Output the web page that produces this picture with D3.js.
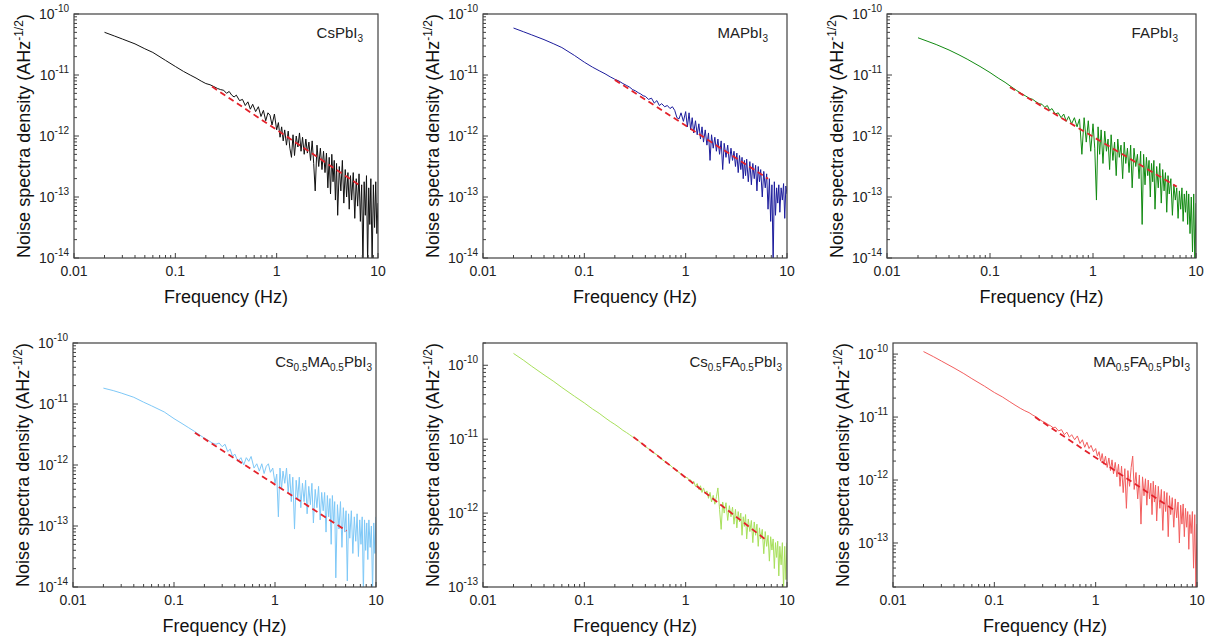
<!DOCTYPE html>
<html>
<head>
<meta charset="utf-8">
<script src="https://cdn.jsdelivr.net/npm/d3@7"></script>
<style>
  body { margin: 0; background: #fff; }
  svg { display: block; font-family: "Liberation Sans", Arial, sans-serif; }
  .frame { fill: none; stroke: #404040; stroke-width: 1.2; }
  .tick { stroke: #404040; stroke-width: 1; }
  .tick-label { font-size: 14px; fill: #222; }
  .axis-title { font-size: 18px; fill: #111; }
  .sample-label { font-size: 15px; fill: #222; }
  .psd { fill: none; stroke-width: 1; stroke-linejoin: round; }
  .fit { fill: none; stroke: #e3222b; stroke-width: 1.8; stroke-dasharray: 6 4; }
</style>
</head>
<body>
<svg id="chart" width="1209" height="641"></svg>
<script>
const svg = d3.select("#chart");

// frequency grid shared by all spectra (Hz)
const freq = [
  0.02, 0.025, 0.03, 0.04, 0.05, 0.06, 0.08, 0.1, 0.12, 0.14, 0.16, 0.18, 0.2,
  0.22, 0.24, 0.26, 0.28, 0.30, 0.32, 0.34, 0.36, 0.38, 0.40, 0.43, 0.46, 0.49, 0.52, 0.55, 0.58, 0.62, 0.66, 0.70, 0.74, 0.78, 0.82, 0.86, 0.90, 0.95, 1.00,
  1.04, 1.08, 1.12, 1.16, 1.2, 1.25, 1.3, 1.35, 1.4, 1.45, 1.5, 1.56, 1.62, 1.68, 1.74, 1.8, 1.87, 1.94, 2.01, 2.08, 2.16, 2.24, 2.32, 2.4, 2.5, 2.6, 2.7, 2.8, 2.9, 3.0,
  3.1, 3.2, 3.3, 3.4, 3.5, 3.6, 3.7, 3.8, 3.9, 4.0, 4.15, 4.3, 4.45, 4.6, 4.75, 4.9, 5.05, 5.2, 5.35, 5.5, 5.7, 5.9, 6.1, 6.3, 6.5, 6.7, 6.9, 7.1, 7.3, 7.5, 7.7, 7.9, 8.1, 8.3, 8.5, 8.75, 9.0, 9.25, 9.5, 9.75, 10.0
];

// log10 of noise spectral density (A Hz^-1/2)
const logCsPbI3 = [
  -10.30, -10.36, -10.41, -10.49, -10.57, -10.63, -10.76, -10.86, -10.94, -11.00, -11.05, -11.10, -11.14,
  -11.16, -11.19, -11.22, -11.24, -11.25, -11.30, -11.27, -11.33, -11.36, -11.33, -11.42, -11.40, -11.50, -11.44, -11.56, -11.48, -11.60, -11.52, -11.68, -11.58, -11.75, -11.62, -11.66, -11.82, -11.64, -11.90,
  -11.78, -12.02, -11.85, -12.08, -11.90, -12.15, -11.92, -12.20, -12.35, -11.98, -12.32, -12.00, -12.18, -11.95, -12.25, -12.02, -12.30, -12.05, -12.28, -12.10, -12.40, -12.08, -12.45, -12.90, -12.15, -12.50, -12.20, -12.55, -12.25, -12.60,
  -12.28, -12.85, -12.35, -12.95, -12.30, -12.75, -12.40, -13.05, -12.45, -13.30, -12.50, -12.90, -12.40, -13.10, -12.55, -13.00, -12.60, -13.20, -12.65, -13.05, -12.60, -13.35, -12.70, -13.15, -12.62, -13.40, -12.80, -14.10, -12.75, -13.30, -12.65, -14.10, -12.85, -13.45, -12.70, -14.10, -12.80, -13.50, -12.75, -13.60, -13.10
];
const logMAPbI3 = [
  -10.23, -10.29, -10.34, -10.42, -10.49, -10.55, -10.68, -10.79, -10.87, -10.93, -10.98, -11.03, -11.07,
  -11.10, -11.14, -11.17, -11.20, -11.24, -11.26, -11.29, -11.31, -11.34, -11.35, -11.40, -11.38, -11.46, -11.42, -11.50, -11.47, -11.52, -11.50, -11.55, -11.52, -11.58, -11.70, -11.72, -11.62, -11.76, -11.60,
  -11.85, -11.62, -11.90, -11.70, -11.95, -11.75, -11.98, -11.80, -12.05, -11.85, -12.10, -11.90, -12.15, -11.95, -12.40, -11.98, -12.20, -12.02, -12.25, -12.05, -12.30, -12.08, -12.55, -12.12, -12.35, -12.15, -12.45, -12.20, -12.40, -12.25,
  -12.50, -12.28, -12.60, -12.32, -12.55, -12.35, -12.70, -12.40, -12.65, -12.38, -12.75, -12.42, -12.80, -12.45, -12.70, -12.48, -12.90, -12.50, -12.75, -12.55, -13.00, -12.58, -12.85, -12.62, -13.20, -12.70, -13.40, -12.80, -14.10, -12.75, -13.30, -12.85, -13.10, -12.80, -13.25, -12.85, -13.05, -12.78, -13.35, -12.82, -12.95
];
const logFAPbI3 = [
  -10.39, -10.45, -10.50, -10.59, -10.67, -10.74, -10.86, -10.96, -11.05, -11.12, -11.19, -11.25, -11.30,
  -11.34, -11.38, -11.40, -11.44, -11.47, -11.48, -11.53, -11.50, -11.58, -11.55, -11.64, -11.62, -11.70, -11.64, -11.76, -11.68, -11.80, -11.70, -11.85, -11.72, -12.30, -11.70, -12.10, -11.75, -12.25, -11.80,
  -12.20, -13.05, -11.85, -12.30, -11.90, -12.45, -11.92, -12.25, -12.05, -12.55, -11.98, -12.40, -12.10, -12.65, -12.05, -12.35, -12.15, -12.70, -12.10, -12.45, -12.20, -12.60, -12.15, -12.85, -12.20, -12.50, -12.30, -12.70, -12.25, -13.45,
  -12.30, -12.80, -12.35, -12.65, -12.40, -13.00, -12.45, -12.75, -12.40, -13.20, -12.50, -12.85, -12.45, -13.10, -12.55, -12.90, -12.60, -13.25, -12.65, -12.95, -12.70, -13.30, -12.80, -13.05, -12.85, -13.35, -12.90, -13.20, -12.85, -13.40, -12.95, -13.25, -12.90, -13.45, -12.95, -13.60, -13.00, -13.90, -12.95, -14.10, -13.10
];
const logCsMAPbI3 = [
  -10.74, -10.78, -10.82, -10.89, -10.97, -11.03, -11.13, -11.24, -11.32, -11.39, -11.45, -11.51, -11.56,
  -11.60, -11.64, -11.66, -11.64, -11.70, -11.66, -11.78, -11.74, -11.86, -11.82, -11.94, -11.88, -12.00, -11.88, -11.94, -11.86, -12.05, -11.98, -12.10, -11.98, -12.14, -12.02, -11.98, -12.12, -12.05, -12.30,
  -12.15, -12.85, -12.05, -12.40, -12.10, -12.30, -12.05, -12.45, -12.15, -12.60, -12.20, -13.05, -12.25, -12.55, -12.20, -12.70, -12.30, -12.60, -12.25, -12.80, -12.35, -12.65, -12.30, -12.95, -12.40, -12.70, -12.35, -12.90, -12.45, -12.75,
  -12.45, -13.10, -12.50, -12.85, -12.55, -13.30, -12.50, -12.95, -12.60, -13.85, -12.65, -13.05, -12.60, -13.35, -12.70, -13.10, -12.75, -13.90, -12.80, -13.20, -12.75, -13.45, -12.85, -13.25, -12.80, -13.50, -12.90, -13.30, -12.85, -14.10, -12.90, -13.40, -12.95, -13.55, -12.90, -13.35, -13.00, -14.10, -12.95, -13.45, -12.85
];
const logCsFAPbI3 = [
  -9.84, -9.93, -10.01, -10.13, -10.22, -10.30, -10.42, -10.51, -10.59, -10.65, -10.71, -10.76, -10.80,
  -10.84, -10.88, -10.91, -10.94, -10.97, -10.99, -11.02, -11.05, -11.07, -11.10, -11.13, -11.16, -11.19, -11.21, -11.24, -11.27, -11.30, -11.33, -11.35, -11.38, -11.41, -11.43, -11.45, -11.47, -11.50, -11.52,
  -11.52, -11.56, -11.55, -11.60, -11.57, -11.64, -11.60, -11.68, -11.63, -11.72, -11.66, -11.74, -11.70, -11.80, -11.72, -11.85, -11.76, -11.88, -11.78, -11.66, -11.95, -12.22, -11.85, -12.00, -11.86, -12.10, -11.90, -12.05, -11.92, -12.15,
  -11.95, -12.20, -11.98, -12.12, -12.00, -12.30, -12.05, -12.18, -12.02, -12.35, -12.08, -12.25, -12.10, -12.40, -12.12, -12.30, -12.15, -12.45, -12.20, -12.35, -12.22, -12.55, -12.25, -12.45, -12.30, -12.65, -12.32, -12.50, -12.35, -12.75, -12.40, -12.60, -12.38, -12.85, -12.45, -12.70, -12.40, -13.05, -12.45, -12.90, -12.40
];
const logMAFAPbI3 = [
  -9.96, -10.04, -10.11, -10.22, -10.31, -10.39, -10.51, -10.61, -10.68, -10.75, -10.81, -10.86, -10.90,
  -10.93, -10.97, -11.00, -11.04, -11.07, -11.09, -11.12, -11.14, -11.17, -11.16, -11.22, -11.20, -11.28, -11.24, -11.32, -11.28, -11.36, -11.30, -11.42, -11.36, -11.48, -11.40, -11.50, -11.45, -11.55, -11.50,
  -11.62, -11.55, -11.70, -11.58, -11.75, -11.62, -11.80, -11.65, -11.85, -11.68, -11.90, -11.72, -11.95, -11.75, -12.10, -11.78, -12.20, -11.82, -12.45, -11.85, -12.10, -11.80, -11.62, -12.15, -11.88, -12.30, -11.92, -12.70, -11.95, -12.25,
  -11.98, -12.40, -12.00, -12.30, -12.05, -12.55, -12.02, -12.35, -12.08, -12.65, -12.10, -12.45, -12.15, -12.80, -12.18, -12.50, -12.20, -12.90, -12.25, -12.55, -12.28, -12.75, -12.30, -12.60, -12.35, -13.00, -12.40, -12.70, -12.38, -12.90, -12.45, -12.75, -12.50, -13.10, -12.55, -12.85, -12.50, -13.40, -12.55, -13.70, -12.70
];

// 1/f fits: [frequency, log10 density] at both ends of the dashed line
const fitCsPbI3 = [[0.23, -11.19], [6.9, -12.83]];
const fitMAPbI3 = [[0.2, -11.08], [6.5, -12.70]];
const fitFAPbI3 = [[0.156, -11.20], [6.5, -12.83]];
const fitCsMAPbI3 = [[0.161, -11.47], [5.1, -13.08]];
const fitCsFAPbI3 = [[0.305, -10.97], [6.3, -12.37]];
const fitMAFAPbI3 = [[0.252, -11.00], [6.1, -12.49]];

const sampleNames = ["CsPbI_3", "MAPbI_3", "FAPbI_3", "Cs_0.5MA_0.5PbI_3", "Cs_0.5FA_0.5PbI_3", "MA_0.5FA_0.5PbI_3"];
const sampleSeries = [logCsPbI3, logMAPbI3, logFAPbI3, logCsMAPbI3, logCsFAPbI3, logMAFAPbI3];
const sampleFits = [fitCsPbI3, fitMAPbI3, fitFAPbI3, fitCsMAPbI3, fitCsFAPbI3, fitMAFAPbI3];
const sampleColors = ["#111111", "#1c1c9c", "#118a11", "#7ec8f7", "#a8e05c", "#f25e5e"];
const yDomains = [[1e-14, 1e-10], [1e-14, 1e-10], [1e-14, 1e-10], [1e-14, 1e-10], [1e-13, 2e-10], [2e-14, 1.5e-10]];
const freqDomain = [0.01, 10];
const freqTicks = [0.01, 0.1, 1, 10];
const freqTickLabels = ["0.01", "0.1", "1", "10"];

const panelBoxes = [
  { left: 74, right: 378, top: 14, bottom: 258, labelInset: 15 },
  { left: 483, right: 787, top: 14, bottom: 258, labelInset: 19 },
  { left: 887, right: 1196, top: 14, bottom: 258, labelInset: 18 },
  { left: 73, right: 376, top: 343, bottom: 587, labelInset: 4 },
  { left: 483, right: 787, top: 343, bottom: 587, labelInset: 5 },
  { left: 893, right: 1197, top: 343, bottom: 587, labelInset: 7 },
];

const defs = svg.append("defs");

function isDecade(v) {
  const e = Math.log10(v);
  return Math.abs(e - Math.round(e)) < 1e-6;
}

function drawPanel(box, i) {
  const g = svg.append("g").attr("class", "panel");
  const x = d3.scaleLog().domain(freqDomain).range([box.left, box.right]);
  const y = d3.scaleLog().domain(yDomains[i]).range([box.bottom, box.top]);

  const clipId = `clip-${i}`;
  defs.append("clipPath").attr("id", clipId)
    .append("rect")
    .attr("x", box.left)
    .attr("y", box.top)
    .attr("width", box.right - box.left)
    .attr("height", box.bottom - box.top);

  const line = d3.line()
    .x((d) => x(d[0]))
    .y((d) => y(10 ** d[1]));

  g.append("path")
    .attr("class", "psd")
    .attr("clip-path", `url(#${clipId})`)
    .attr("stroke", sampleColors[i])
    .attr("d", line(d3.zip(freq, sampleSeries[i])));

  g.append("path")
    .attr("class", "fit")
    .attr("clip-path", `url(#${clipId})`)
    .attr("d", line(sampleFits[i]));

  // inward ticks on bottom and left only
  g.selectAll("line.xtick")
    .data(x.ticks())
    .join("line")
    .attr("class", "tick xtick")
    .attr("x1", (d) => x(d))
    .attr("x2", (d) => x(d))
    .attr("y1", box.bottom)
    .attr("y2", (d) => box.bottom - (isDecade(d) ? 5 : 3));

  g.selectAll("line.ytick")
    .data(y.ticks())
    .join("line")
    .attr("class", "tick ytick")
    .attr("y1", (d) => y(d))
    .attr("y2", (d) => y(d))
    .attr("x1", box.left)
    .attr("x2", (d) => box.left + (isDecade(d) ? 5 : 3));

  g.append("rect")
    .attr("class", "frame")
    .attr("x", box.left)
    .attr("y", box.top)
    .attr("width", box.right - box.left)
    .attr("height", box.bottom - box.top);

  g.selectAll("text.xlabel")
    .data(freqTicks)
    .join("text")
    .attr("class", "tick-label xlabel")
    .attr("x", (d) => x(d))
    .attr("y", box.bottom + 18)
    .attr("text-anchor", "middle")
    .text((d, j) => freqTickLabels[j]);

  const ylabels = g.selectAll("text.ylabel")
    .data(y.ticks().filter(isDecade))
    .join("text")
    .attr("class", "tick-label ylabel")
    .attr("x", box.left - 5)
    .attr("y", (d) => y(d) + 5)
    .attr("text-anchor", "end");
  ylabels.append("tspan").text("10");
  ylabels.append("tspan")
    .attr("dy", -7)
    .attr("font-size", 10)
    .text((d) => `-${Math.abs(Math.round(Math.log10(d)))}`);

  g.append("text")
    .attr("class", "axis-title")
    .attr("x", (box.left + box.right) / 2)
    .attr("y", box.bottom + 45)
    .attr("text-anchor", "middle")
    .text("Frequency (Hz)");

  const ytitle = g.append("text")
    .attr("class", "axis-title")
    .attr("text-anchor", "middle")
    .attr("transform", `translate(${box.left - 44},${(box.top + box.bottom) / 2}) rotate(-90)`);
  ytitle.append("tspan").text("Noise spectra density (AHz");
  ytitle.append("tspan").attr("dy", -7).attr("font-size", 12).text("-1/2");
  ytitle.append("tspan").attr("dy", 7).text(")");

  // sample name with subscripts
  const label = g.append("text")
    .attr("class", "sample-label")
    .attr("x", box.right - box.labelInset)
    .attr("y", box.top + 24)
    .attr("text-anchor", "end");
  let sub = false;
  sampleNames[i].split(/_([0-9.]+)/).forEach((s, k) => {
    if (s === "") return;
    const isSub = k % 2 === 1;
    const t = label.append("tspan").text(s);
    if (isSub) t.attr("dy", sub ? 0 : 4).attr("font-size", 10);
    else if (sub) t.attr("dy", -4);
    sub = isSub;
  });
}

panelBoxes.forEach(drawPanel);
</script>
</body>
</html>
